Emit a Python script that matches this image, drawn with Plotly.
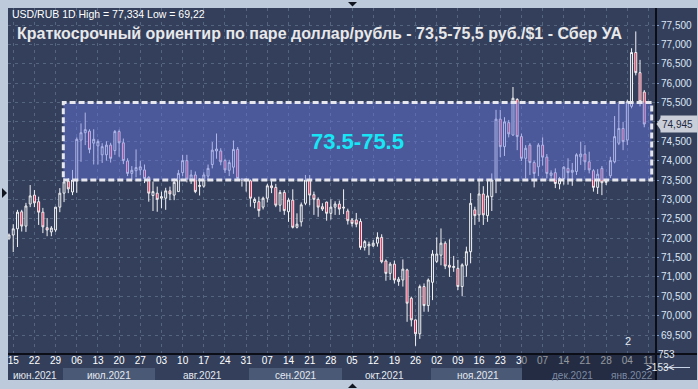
import plotly.graph_objects as go

# ---------------- data ----------------
opens = [72.00, 72.08, 72.24, 72.68, 72.31, 72.88, 73.11, 72.94, 72.67, 72.27,
         72.16, 72.21, 72.80, 73.16, 73.47, 73.19, 73.48, 74.53, 74.72, 74.76,
         74.45, 74.38, 74.15, 74.15, 74.40, 74.26, 74.75, 74.46, 73.99, 73.67,
         73.74, 73.76, 73.76, 73.57, 73.10, 73.16, 73.03, 73.03, 73.22, 73.11,
         73.20, 73.69, 74.00, 73.52, 73.63, 73.33, 73.34, 73.60, 73.90, 74.25,
         74.25, 74.00, 73.75, 73.83, 74.29, 73.50, 73.48, 73.48, 72.92, 72.94,
         72.80, 73.03, 73.35, 73.31, 72.85, 73.18, 72.68, 72.98, 72.28, 72.42,
         72.90, 73.50, 73.12, 73.00, 72.81, 72.93, 72.64, 72.80, 72.88, 72.80,
         72.70, 72.47, 72.47, 72.43, 71.76, 71.80, 71.80, 71.87, 72.02, 71.41,
         71.09, 71.33, 70.88, 70.92, 71.18, 70.45, 69.89, 69.53, 70.75, 70.26,
         70.86, 71.40, 71.56, 71.87, 71.30, 71.24, 71.22, 70.75, 71.30, 71.65,
         72.73, 72.60, 73.14, 72.58, 73.07, 73.50, 75.07, 74.36, 74.98, 74.66,
         75.58, 74.62, 74.06, 74.40, 73.95, 73.84, 74.40, 74.09, 73.62, 73.69,
         73.40, 73.54, 73.80, 73.70, 73.72, 74.10, 74.17, 73.97, 73.74, 73.31,
         73.80, 73.44, 73.61, 73.97, 74.45, 74.83, 74.53, 75.40, 76.79, 76.27,
         75.77]
highs = [72.12, 72.36, 72.73, 72.73, 72.91, 73.37, 73.24, 73.07, 72.78, 72.52,
         72.31, 72.80, 73.29, 73.55, 73.55, 73.76, 74.60, 74.96, 75.24, 74.81,
         74.81, 74.55, 74.45, 74.50, 74.46, 74.79, 74.80, 74.57, 74.06, 73.86,
         74.29, 74.00, 73.90, 73.60, 73.46, 73.33, 73.20, 73.30, 73.33, 73.54,
         73.76, 74.15, 74.15, 73.76, 73.72, 73.55, 73.70, 73.90, 74.48, 74.70,
         74.32, 74.05, 74.02, 74.52, 74.35, 73.55, 73.55, 73.52, 73.05, 73.07,
         73.07, 73.40, 73.52, 73.40, 73.24, 73.24, 73.03, 73.26, 72.64, 72.92,
         73.63, 73.63, 73.20, 73.05, 72.90, 72.94, 73.00, 72.95, 72.97, 73.26,
         72.76, 72.52, 72.65, 72.50, 71.95, 71.91, 71.95, 72.15, 72.10, 71.45,
         71.38, 71.42, 71.00, 71.45, 71.21, 70.49, 69.90, 70.80, 70.83, 70.96,
         71.69, 72.02, 72.25, 71.92, 71.97, 71.54, 71.44, 71.35, 71.78, 73.16,
         72.81, 73.50, 73.34, 73.50, 73.67, 75.31, 75.31, 75.12, 75.05, 75.90,
         75.61, 74.70, 74.40, 74.45, 74.00, 74.45, 74.60, 74.17, 73.75, 73.80,
         73.58, 73.86, 74.06, 73.94, 74.19, 74.49, 74.40, 74.23, 73.78, 73.78,
         73.86, 73.52, 74.10, 75.15, 75.46, 75.00, 75.57, 76.90, 77.334, 76.60,
         75.82]
lows = [71.95, 71.64, 71.77, 72.17, 72.16, 72.80, 72.80, 72.34, 72.13, 72.05,
        72.05, 72.16, 72.67, 72.93, 73.16, 73.11, 73.17, 73.97, 74.40, 74.19,
        73.90, 73.90, 73.94, 74.00, 73.95, 74.15, 74.10, 73.91, 73.60, 73.53,
        73.57, 73.62, 73.42, 72.94, 72.70, 72.68, 72.77, 72.73, 72.98, 72.98,
        73.20, 73.60, 73.44, 73.40, 73.16, 73.10, 73.30, 73.50, 73.80, 74.05,
        73.88, 73.68, 73.60, 73.66, 73.50, 73.33, 73.20, 72.81, 72.77, 72.55,
        72.74, 72.92, 73.16, 72.80, 72.68, 72.60, 72.42, 72.25, 72.25, 72.30,
        72.85, 72.85, 72.60, 72.55, 72.70, 72.45, 72.48, 72.60, 72.60, 72.62,
        72.35, 72.30, 72.28, 71.70, 71.68, 71.56, 71.77, 71.78, 71.35, 70.90,
        70.92, 70.83, 70.77, 70.75, 69.84, 69.72, 69.22, 69.40, 70.10, 70.10,
        70.40, 71.36, 71.30, 71.20, 71.00, 71.13, 70.66, 70.50, 71.00, 71.35,
        72.34, 72.42, 72.34, 72.42, 72.70, 73.16, 74.09, 74.12, 74.60, 74.64,
        74.27, 73.99, 73.54, 73.63, 73.31, 73.60, 73.87, 73.54, 73.54, 73.29,
        73.26, 73.38, 73.38, 73.35, 73.63, 73.89, 73.76, 73.67, 73.20, 73.14,
        73.11, 73.37, 73.55, 73.93, 74.40, 74.27, 74.40, 75.35, 76.20, 75.40,
        74.86]
closes = [72.08, 72.24, 72.67, 72.31, 72.83, 73.09, 72.91, 72.67, 72.29, 72.21,
          72.26, 72.80, 73.16, 73.45, 73.27, 73.50, 74.55, 74.72, 74.80, 74.29,
          74.55, 74.49, 74.36, 74.40, 74.06, 74.75, 74.46, 74.00, 73.67, 73.75,
          73.82, 73.84, 73.54, 73.16, 73.20, 73.00, 73.07, 73.22, 73.14, 73.44,
          73.67, 74.00, 73.52, 73.63, 73.20, 73.36, 73.63, 73.80, 74.27, 74.30,
          73.97, 73.76, 73.95, 74.29, 73.54, 73.52, 73.52, 73.03, 73.00, 72.71,
          73.03, 73.35, 73.30, 72.85, 73.18, 72.71, 72.98, 72.28, 72.36, 72.86,
          73.50, 73.11, 73.00, 72.80, 72.75, 72.64, 72.80, 72.88, 72.75, 72.78,
          72.45, 72.38, 72.36, 71.76, 71.91, 71.84, 71.87, 72.02, 71.39, 71.09,
          71.33, 70.92, 70.94, 71.20, 70.32, 69.89, 69.53, 70.75, 70.26, 70.92,
          71.59, 71.59, 71.87, 71.28, 71.25, 71.27, 70.75, 71.31, 71.65, 72.90,
          72.58, 73.14, 72.60, 73.09, 73.50, 75.07, 74.36, 75.00, 74.69, 75.61,
          74.62, 74.06, 74.32, 73.95, 73.67, 74.40, 74.09, 73.67, 73.68, 73.41,
          73.54, 73.83, 73.69, 73.75, 74.15, 74.17, 73.97, 73.76, 73.31, 73.65,
          73.43, 73.46, 74.00, 74.62, 74.83, 74.49, 75.52, 76.79, 76.27, 75.52,
          74.945]
bar_index = list(range(len(opens)))

week_tick_index = list(range(1, 152, 5))
day_labels = ["15", "22", "29", "06", "13", "20", "27", "03", "10", "17", "24",
              "31", "07", "14", "21", "28", "05", "12", "19", "26", "02", "09",
              "16", "23", "30", "07", "14", "21", "28", "04", "11"]
month_labels = ["июн.2021", "июл.2021", "авг.2021", "сен.2021", "окт.2021",
                "ноя.2021", "дек.2021", "янв.2022"]
price_ticks = [69.5, 70.0, 70.5, 71.0, 71.5, 72.0, 72.5, 73.0, 73.5, 74.0,
               74.5, 75.0, 75.5, 76.0, 76.5, 77.0, 77.5]
band_low, band_high = 73.5, 75.5
title_text = "Краткосрочный ориентир по паре доллар/рубль - 73,5-75,5 руб./$1 - Сбер УА"
header_text = "USD/RUB 1D High = 77,334 Low = 69,22"
bars_info = ["753", ">153<"]

# ---------------- layout geometry (pixels) ----------------
W, H = 698, 389
PL, PR, PT, PB = 8, 655, 8, 353
X0PX, DXPX = 9.0, 4.235       # pixel of bar 0, pixels per bar
Y_REF_PX, Y_REF_VAL, PX_PER_UNIT = 25.0, 77.5, 38.75

def px(x):
    return (x - PL) / (PR - PL)

def py(y):
    return (PB - y) / (PB - PT)

def xval(xpix):
    return (xpix - X0PX) / DXPX

def yval(ypix):
    return Y_REF_VAL - (ypix - Y_REF_PX) / PX_PER_UNIT

BG = "#333f5b"
FRAME = "#bccadb"
FONT = "Liberation Sans, Arial, sans-serif"

# price-axis labels; the one hidden behind the last-price tag is left blank
last_price = closes[-1]
price_tick_text = ["" if abs(v - last_price) < 0.2 else ("%.3f" % v).replace(".", ",")
                   for v in price_ticks]

fig = go.Figure()
fig.add_trace(go.Candlestick(
    x=bar_index, open=opens, high=highs, low=lows, close=closes,
    increasing=dict(line=dict(color="#f2f2f2", width=1), fillcolor=BG),
    decreasing=dict(line=dict(color="#f2f2f2", width=1), fillcolor="#e3123f"),
    whiskerwidth=0, hoverinfo="skip", showlegend=False,
))

shapes = []
# month bands (lighter) in the date row
for a, b in [(63, 155), (249, 342), (431, 522)]:
    shapes.append(dict(type="rect", xref="paper", yref="paper", layer="below",
                       x0=px(a), x1=px(b), y0=py(380), y1=py(368),
                       fillcolor="#4a5975", line=dict(width=0)))
# band rectangle
shapes.append(dict(type="rect", xref="x", yref="y", layer="above",
                   x0=xval(63.3), x1=xval(651.7), y0=band_low, y1=band_high,
                   fillcolor="rgba(101,116,223,0.47)",
                   line=dict(color="#e6e6ee", width=3, dash="6px,3px")))
# darker overlay on late date axis
shapes.append(dict(type="rect", xref="paper", yref="paper", layer="above",
                   x0=px(522), x1=px(655), y0=py(380), y1=py(354.5),
                   fillcolor="rgba(16,22,38,0.45)", line=dict(width=0)))
# separators
shapes.append(dict(type="line", xref="paper", yref="paper", layer="above",
                   x0=px(8), x1=px(697), y0=py(354), y1=py(354),
                   line=dict(color="#0b0e16", width=2)))
shapes.append(dict(type="line", xref="paper", yref="paper", layer="above",
                   x0=px(656), x1=px(656), y0=py(8), y1=py(380),
                   line=dict(color="#0b0e16", width=2)))
shapes.append(dict(type="line", xref="paper", yref="paper", layer="above",
                   x0=px(664), x1=px(690), y0=py(367.5), y1=py(367.5),
                   line=dict(color="#c8d4e6", width=1)))
# frame
for (a, b, c, d) in [(0, 8, 0, 389), (0, 698, 0, 8), (0, 698, 380, 389), (697, 698, 0, 389)]:
    shapes.append(dict(type="rect", xref="paper", yref="paper", layer="above",
                       x0=px(a), x1=px(b), y0=py(d), y1=py(c),
                       fillcolor=FRAME, line=dict(width=0)))

def tri(points, color="#10151f"):
    p = "M " + " L ".join(f"{px(x)},{py(y)}" for x, y in points) + " Z"
    return dict(type="path", xref="paper", yref="paper", layer="above", path=p,
                fillcolor=color, line=dict(width=0))

shapes.append(tri([(348, 2), (357, 2), (352.5, 6.5)]))
shapes.append(tri([(348, 388), (357, 388), (352.5, 383.5)]))
shapes.append(tri([(2, 188), (2, 198), (7, 193)]))
# price tag arrow
shapes.append(tri([(656.5, 124), (661, 117.5), (661, 130.5)], color="#c9ced8"))

annotations = []
annotations.append(dict(xref="paper", yref="paper", x=px(10), y=py(14),
                        xanchor="left", yanchor="middle", showarrow=False,
                        text=header_text, font=dict(family=FONT, size=10.5, color="#ffffff")))
annotations.append(dict(xref="paper", yref="paper", x=px(15), y=py(33),
                        xanchor="left", yanchor="middle", showarrow=False,
                        text="<b>" + title_text + "</b>",
                        font=dict(family=FONT, size=16, color="#e8e8ea")))
annotations.append(dict(xref="x", yref="y", x=(xval(63.3) + xval(651.7)) / 2,
                        y=(band_low + band_high) / 2, showarrow=False,
                        text="<b>%s-%s</b>" % (band_low, band_high),
                        font=dict(family=FONT, size=22, color="#16e6f5")))
last_txt = ("%.3f" % last_price).replace(".", ",")
annotations.append(dict(xref="paper", yref="y", x=px(660), y=last_price,
                        xanchor="left", yanchor="middle", showarrow=False,
                        text=last_txt, bgcolor="#c9ced8", borderpad=1,
                        width=34, height=14, align="left",
                        font=dict(family=FONT, size=10, color="#1c2840")))
month_centers = [35, 109, 202, 296, 384, 478, 572, 632]
for i, (m, c) in enumerate(zip(month_labels, month_centers)):
    annotations.append(dict(xref="paper", yref="paper", x=px(c), y=py(375.5),
                            xanchor="center", yanchor="middle", showarrow=False,
                            text=m, font=dict(family=FONT, size=10,
                                              color="#e4eaf2" if i < 6 else "#7d8aa2")))
annotations.append(dict(xref="paper", yref="paper", x=px(677), y=py(361.5),
                        showarrow=False, text=bars_info[0],
                        font=dict(family=FONT, size=10, color="#e4eaf2")))
annotations.append(dict(xref="paper", yref="paper", x=px(677), y=py(374.5),
                        showarrow=False, text=bars_info[1],
                        font=dict(family=FONT, size=10, color="#e4eaf2")))
annotations.append(dict(xref="paper", yref="paper", x=px(633), y=py(348.5),
                        showarrow=False, text="2",
                        font=dict(family=FONT, size=11, color="#e4eaf2")))

fig.update_layout(
    width=W, height=H,
    margin=dict(l=PL, r=W - PR, t=PT, b=H - PB, pad=0, autoexpand=False),
    paper_bgcolor=BG, plot_bgcolor=BG,
    boxgap=0.35,
    showlegend=False,
    shapes=shapes, annotations=annotations,
    font=dict(family=FONT, size=10, color="#ffffff"),
    xaxis=dict(range=[xval(PL), xval(PR)], rangeslider=dict(visible=False),
               automargin=False,
               tickmode="array", tickvals=week_tick_index, ticktext=day_labels,
               showgrid=True, gridcolor="#55647f", griddash="3px,4px", gridwidth=1,
               zeroline=False, showline=False, ticks="", ticklen=0,
               tickfont=dict(family=FONT, size=10, color="#ffffff"), fixedrange=True),
    yaxis=dict(range=[yval(PB), yval(PT)], side="right",
               tickmode="array", tickvals=price_ticks, ticktext=price_tick_text,
               automargin=False, showgrid=True, gridcolor="#55647f",
               griddash="3px,4px", gridwidth=1, zeroline=False, showline=False,
               ticks="outside", ticklen=3, tickcolor="#7d9bd0",
               tickfont=dict(family=FONT, size=10, color="#dbe6f7"), fixedrange=True),
)

fig.write_html("out.html", config={"displayModeBar": False},
               post_script="document.body.style.margin='0px';"
                           "document.body.style.overflow='hidden';"
                           "document.body.style.background='%s';" % FRAME)
